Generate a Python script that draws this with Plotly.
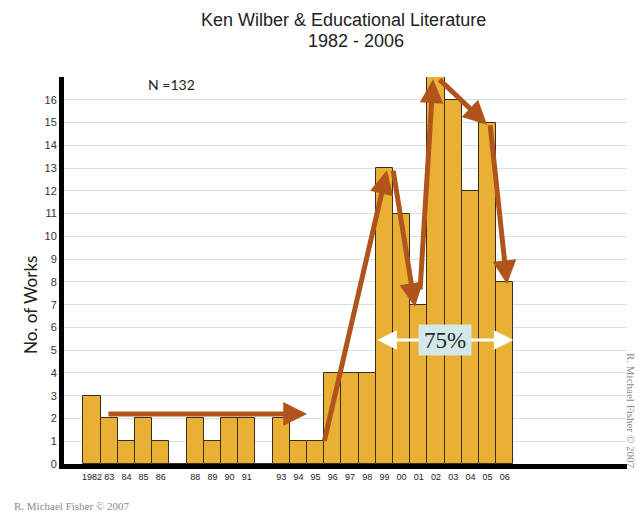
import plotly.graph_objects as go

# Publication counts per year
years = list(range(1982, 2007))
counts = [3, 2, 1, 2, 1, 0, 2, 1, 2, 2, 0, 2, 1, 1, 4, 4, 4, 13, 11, 7, 17, 16, 12, 15, 8]
n_total = 132

# Labelled years on the horizontal axis
tick_years = [1982, 1983, 1984, 1985, 1986, 1988, 1989, 1990, 1991,
              1993, 1994, 1995, 1996, 1997, 1998, 1999, 2000, 2001,
              2002, 2003, 2004, 2005, 2006]
tick_text = ["1982", "83", "84", "85", "86", "88", "89", "90", "91",
             "93", "94", "95", "96", "97", "98", "99", "00", "01",
             "02", "03", "04", "05", "06"]

# Trend arrows: (tail year, tail offset, tail lift, head year, head offset);
# heights come from the bar counts
trend_steps = [
    (1995, 0.49, 0.0, 1999, 0.15),
    (1999, 0.50, 0.0, 2001, -0.22),
    (2001, 0.07, 0.65, 2002, -0.17),
    (2002, 0.12, 0.0, 2005, -0.03),
    (2005, 0.14, 0.0, 2006, 0.13),
]
plateau_start, plateau_end, plateau_level = 1982.87, 1994.5, 2.2

# Surge period highlighted with the share of works
surge_first, surge_last = 1999, 2006
surge_level = 5.45

count_of = dict(zip(years, counts))

W, H = 639, 512
L, R, T, B = 64, 12, 77, 48
pw, ph = W - L - R, H - T - B


def px(x):
    return (x - L) / pw


def py(y):
    return (H - B - y) / ph


fig = go.Figure()
fig.add_trace(go.Bar(
    x=years, y=counts,
    marker=dict(color="#e8b133", line=dict(color="#3b2c1c", width=1)),
    width=1.0,
    hoverinfo="x+y",
))

BROWN = "#b0541c"

# early plateau arrow
fig.add_annotation(x=plateau_end, y=plateau_level, ax=plateau_start, ay=plateau_level,
                   xref="x", yref="y", axref="x", ayref="y", text="",
                   showarrow=True, arrowhead=2, arrowsize=0.95, arrowwidth=5,
                   arrowcolor=BROWN, standoff=0, startstandoff=0)

# arrows following the peaks
for ty, tdx, lift, hy, hdx in trend_steps:
    fig.add_annotation(x=hy + hdx, y=count_of[hy] - 0.1,
                       ax=ty + tdx, ay=count_of[ty] + lift - 0.05,
                       xref="x", yref="y", axref="x", ayref="y", text="",
                       showarrow=True, arrowhead=2, arrowsize=0.95, arrowwidth=5,
                       arrowcolor=BROWN, standoff=0, startstandoff=0)

# white double arrow across the surge years
fig.add_annotation(x=surge_last + 0.5, y=surge_level, ax=surge_first - 0.5, ay=surge_level,
                   xref="x", yref="y", axref="x", ayref="y", text="",
                   showarrow=True, arrowhead=2, startarrowhead=2, arrowside="end+start",
                   arrowsize=1.3, startarrowsize=1.3, arrowwidth=3,
                   arrowcolor="white", standoff=0, startstandoff=0)

share = sum(count_of[y] for y in range(surge_first, surge_last + 1)) / n_total
fig.add_annotation(x=(surge_first + surge_last) / 2, y=surge_level,
                   xref="x", yref="y", text=f"{share:.0%}", showarrow=False,
                   font=dict(family="Liberation Serif", size=23, color="#1e2a2c"),
                   bgcolor="#d4e7e9", width=50, height=28)

# titles and labels
fig.add_annotation(x=px(343), y=py(20), xref="paper", yref="paper", showarrow=False,
                   text="Ken Wilber & Educational Literature",
                   font=dict(family="Liberation Sans", size=18, color="#222"),
                   xanchor="center", yanchor="middle")
fig.add_annotation(x=px(356), y=py(41), xref="paper", yref="paper", showarrow=False,
                   text="1982 - 2006",
                   font=dict(family="Liberation Sans", size=18, color="#222"),
                   xanchor="center", yanchor="middle")
fig.add_annotation(x=px(171), y=py(84), xref="paper", yref="paper", showarrow=False,
                   text="N =132",
                   font=dict(family="Lato", size=14, color="#222"),
                   xanchor="center", yanchor="middle")
fig.add_annotation(x=px(30), y=py(305), xref="paper", yref="paper", showarrow=False,
                   text="No. of Works", textangle=-90,
                   font=dict(family="Lato", size=17, color="#222"),
                   xanchor="center", yanchor="middle")
fig.add_annotation(x=px(12), y=py(506), xref="paper", yref="paper", showarrow=False,
                   text="R. Michael Fisher © 2007",
                   font=dict(family="Liberation Serif", size=11, color="#8a8a8a"),
                   xanchor="left", yanchor="middle")
fig.add_annotation(x=px(631), y=py(410), xref="paper", yref="paper", showarrow=False,
                   text="R. Michael Fisher © 2007", textangle=90,
                   font=dict(family="Liberation Serif", size=11, color="#8a8a8a"),
                   xanchor="center", yanchor="middle", borderpad=0)

fig.update_layout(
    width=W, height=H,
    margin=dict(l=L, r=R, t=T, b=B),
    paper_bgcolor="white", plot_bgcolor="white",
    showlegend=False, bargap=0,
    xaxis=dict(range=[1980.372, 2013.105], tickvals=tick_years, ticktext=tick_text,
               showgrid=False, zeroline=False, showline=True, linewidth=5,
               linecolor="black", ticks="",
               tickfont=dict(family="Liberation Sans", size=9, color="#222")),
    yaxis=dict(range=[0, 17], tickvals=list(range(0, 17)), showgrid=True,
               gridcolor="#cfe4e7", gridwidth=1, zeroline=False, showline=True,
               linewidth=5, linecolor="black", ticks="",
               tickfont=dict(family="Liberation Sans", size=11, color="#333")),
)

fig.write_html("out.html")
